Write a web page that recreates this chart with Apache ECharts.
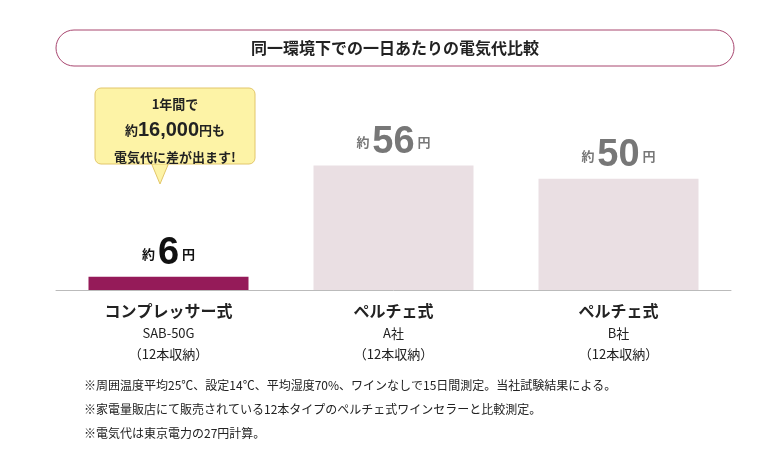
<!DOCTYPE html><html><head><meta charset="utf-8"><script src="https://cdn.jsdelivr.net/npm/echarts@6/dist/echarts.min.js"></script>
<style>html,body{margin:0;background:#fff}#c{width:782px;height:464px}</style></head><body><div id="c"></div><script>
const names=['コンプレッサー式','ペルチェ式','ペルチェ式'];
const subs=['SAB-50G','A社','B社'];
const values=[6,56,50];
const notes=['※周囲温度平均25℃、設定14℃、平均湿度70%、ワインなしで15日間測定。当社試験結果による。','※家電量販店にて販売されている12本タイプのペルチェ式ワインセラーと比較測定。','※電気代は東京電力の27円計算。'];
const F='"Noto Sans CJK JP"';
const ch=echarts.init(document.getElementById('c'));
ch.setOption({animation:false,textStyle:{fontFamily:F},
grid:{left:56,right:51,top:112,bottom:174},
xAxis:{type:'category',data:names.map((n,i)=>n+'|'+subs[i]),axisTick:{show:false},axisLine:{lineStyle:{color:'#bbb'}},
 axisLabel:{margin:8,formatter:v=>{const p=v.split('|');return '{a|'+p[0]+'}\n{b|'+p[1]+'}\n{b|（12本収納）}';},
 rich:{a:{fontSize:16,fontWeight:'bold',color:'#222',lineHeight:25,fontFamily:F},b:{fontSize:13,color:'#222',lineHeight:21,fontFamily:F}}}},
yAxis:{type:'value',min:0,max:80,show:false},
series:[{type:'bar',barWidth:160,data:values.map((v,i)=>({value:v,itemStyle:{color:i?'#eadfe3':'#951b59'},label:{color:i?'#777':'#111'}})),
 label:{show:true,position:'top',distance:4,formatter:p=>'{s|約 }{n|'+p.value+'}{s| 円}',
 rich:{s:{fontSize:13,fontWeight:'bold',fontFamily:F},n:{fontSize:38,fontWeight:'bold',fontFamily:'Liberation Sans'}}}}],
graphic:[
 {type:'rect',shape:{x:56,y:30,width:678,height:36,r:18},style:{fill:'#fff',stroke:'#a8466f',lineWidth:1}},
 {type:'text',x:395,y:48,style:{text:'同一環境下での一日あたりの電気代比較',font:'bold 16px '+F,fill:'#222',align:'center',verticalAlign:'middle'}},
 {type:'polygon',shape:{points:[[150,160],[170,160],[160,184]]},style:{fill:'#fdf3a6',stroke:'#e2c66a'}},
 {type:'rect',shape:{x:95,y:88,width:160,height:76,r:6},style:{fill:'#fdf3a6',stroke:'#e2c66a'}},
 {type:'rect',shape:{x:149,y:158,width:22,height:6},style:{fill:'#fdf3a6'}},
 {type:'text',x:175,y:104,style:{text:'1年間で',font:'bold 13px '+F,fill:'#222',align:'center',verticalAlign:'middle'}},
 {type:'text',x:175,y:130,style:{text:'{s|約}{n|16,000}{s|円も}',align:'center',verticalAlign:'middle',rich:{s:{font:'bold 13px '+F,fill:'#222'},n:{font:'bold 20px "Liberation Sans"',fill:'#222'}}}},
 {type:'text',x:175,y:157,style:{text:'電気代に差が出ます!',font:'bold 13px '+F,fill:'#222',align:'center',verticalAlign:'middle'}},
 ...notes.map((t,i)=>({type:'text',x:84,y:385+i*24,style:{text:t,font:'12px '+F,fill:'#222',verticalAlign:'middle'}}))
]});
</script></body></html>
